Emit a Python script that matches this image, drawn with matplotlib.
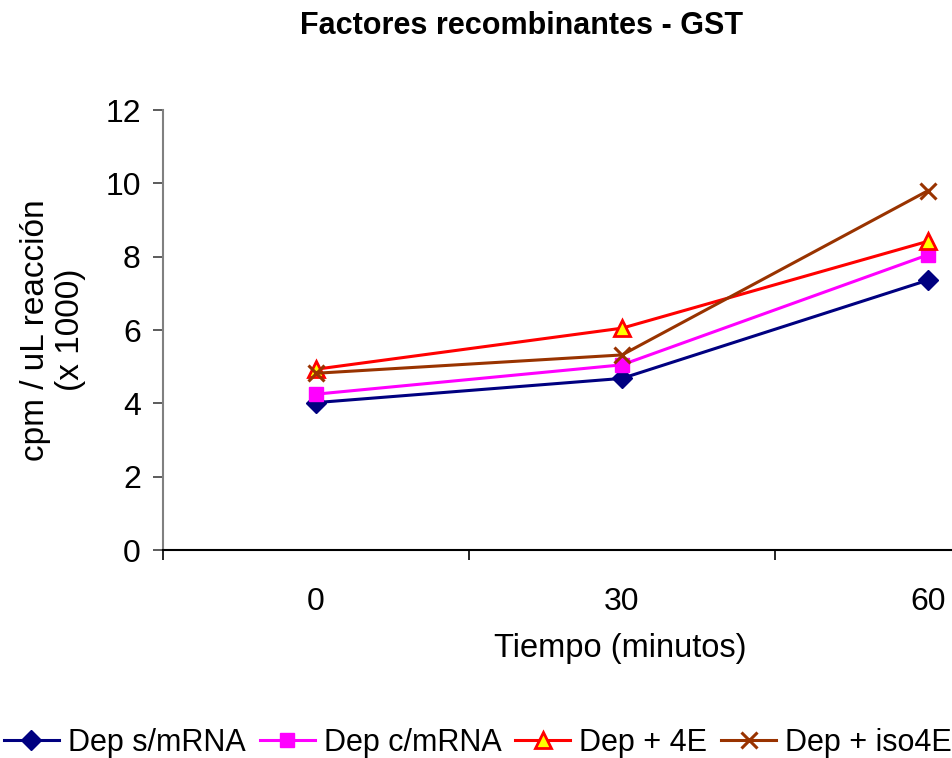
import matplotlib
matplotlib.use("Agg")
import matplotlib.pyplot as plt

# datos
tiempos = ["0", "30", "60"]
dep_s_mrna = [4.02, 4.68, 7.36]
dep_c_mrna = [4.25, 5.05, 8.05]
dep_4e = [4.93, 6.05, 8.42]
dep_iso4e = [4.82, 5.32, 9.8]
y_ticks = [0, 2, 4, 6, 8, 10, 12]

plt.rcParams['font.family'] = ['Liberation Sans', 'DejaVu Sans']

fig = plt.figure(figsize=(9.53, 7.58), dpi=100)
W, H = 953.0, 758.0
ax = fig.add_axes([163 / W, 1 - 550 / H, (1081 - 163) / W, 440 / H])

x = range(len(tiempos))
ax.plot(x, dep_s_mrna, color='#000080', lw=2.2, marker='D', ms=10,
        mfc='#000080', mec='#000080', label='Dep s/mRNA', clip_on=False)
ax.plot(x, dep_c_mrna, color='#FF00FF', lw=2.2, marker='s', ms=10.5,
        mfc='#FF00FF', mec='#FF00FF', label='Dep c/mRNA', clip_on=False)
ax.plot(x, dep_4e, color='#FF0000', lw=2.2, marker='^', ms=11.5,
        mfc='#FFFF00', mec='#FF0000', mew=2, label='Dep + 4E', clip_on=False)
ax.plot(x, dep_iso4e, color='#993300', lw=2.2, marker='x', ms=11.5, mew=2.2,
        label='Dep + iso4E', clip_on=False)

ax.set_xlim(-0.5, 2.5)
ax.set_ylim(0, 12)
ax.set_yticks(y_ticks)
ax.set_yticklabels([str(v) for v in y_ticks], fontsize=23)

# ticks entre categorias, etiquetas en el centro
ax.set_xticks([-0.5, 0.5, 1.5, 2.5])
ax.set_xticklabels([])
ax.set_xticks(list(x), minor=True)
ax.set_xticklabels(tiempos, minor=True, fontsize=23)
ax.tick_params(axis='x', which='major', direction='out', length=7, width=1.2, color='black')
ax.tick_params(axis='x', which='minor', length=0, pad=27)
ax.tick_params(axis='y', direction='out', length=7, width=1.2, color='#404040', pad=9)

for s in ['top', 'right']:
    ax.spines[s].set_visible(False)
ax.spines['left'].set_color('#808080')
ax.spines['left'].set_linewidth(1.5)
ax.spines['bottom'].set_color('black')
ax.spines['bottom'].set_linewidth(1.5)

fig.text(522 / W, 1 - 26 / H, 'Factores recombinantes - GST', ha='center', va='center',
         fontsize=22, fontweight='bold')
fig.text(620 / W, 1 - 648 / H, 'Tiempo (minutos)', ha='center', va='center', fontsize=23.5)
fig.text(53 / W, 1 - 330 / H, 'cpm / uL reacción\n(x 1000)', ha='center', va='center',
         rotation=90, fontsize=24, multialignment='center', linespacing=1.15)

fig.legend(loc='center', bbox_to_anchor=(478 / W, 1 - 743 / H), ncol=4, frameon=False,
           fontsize=22, handlelength=1.8, handletextpad=0.3, columnspacing=0.45,
           borderaxespad=0)

fig.savefig('out.png', dpi=100)
